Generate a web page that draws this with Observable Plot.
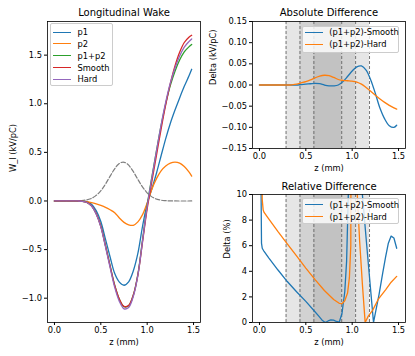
<!DOCTYPE html>
<html>
<head>
<meta charset="utf-8">
<script src="https://cdn.jsdelivr.net/npm/d3@7"></script>
<script src="https://cdn.jsdelivr.net/npm/@observablehq/plot@0.6"></script>
<style>
html, body { margin: 0; padding: 0; background: #fff; }
#fig { position: relative; width: 415px; height: 356px; overflow: hidden; font-family: "DejaVu Sans", sans-serif; background: #fff; }
#fig svg { position: absolute; overflow: visible; }
.legend { position: absolute; background: rgba(255,255,255,0.8); border: 1px solid #cccccc; border-radius: 2px; box-sizing: border-box; font-size: 8.3px; color: #000; }
.legend .row { position: absolute; left: 0; height: 0; display: flex; align-items: center; }
.legend .sw { display: inline-block; width: 17.7px; height: 0; border-top: 1.4px solid; margin-left: 2.4px; margin-right: 6.4px; }
.legend .lb { line-height: 1; white-space: nowrap; }
</style>
</head>
<body>
<div id="fig"></div>
<script>
// ---------- data ----------
const zGrid = [0,0.05,0.1,0.15,0.2,0.25,0.3,0.35,0.4,0.45,0.5,0.55,0.6,0.65,0.7,0.75,0.8,0.85,0.9,0.95,1.0,1.05,1.1,1.15,1.2,1.25,1.3,1.35,1.4,1.45,1.48];
const wakeP1     = [0,0,0,0,0,0,-0.001,-0.007,-0.033,-0.099,-0.212,-0.392,-0.576,-0.747,-0.835,-0.867,-0.832,-0.72,-0.537,-0.26,-0.027,0.123,0.285,0.465,0.642,0.80,0.935,1.06,1.179,1.285,1.355];
const wakeP2     = [0,0,0,0,0,0,-0.002,-0.008,-0.017,-0.03,-0.046,-0.065,-0.09,-0.12,-0.175,-0.22,-0.245,-0.25,-0.215,-0.14,-0.02,0.12,0.23,0.31,0.36,0.39,0.40,0.39,0.355,0.30,0.255];
const wakeP1P2   = [0,0,0,0,0,0,-0.003,-0.015,-0.05,-0.129,-0.258,-0.457,-0.666,-0.867,-1.01,-1.087,-1.077,-0.97,-0.752,-0.40,-0.047,0.243,0.515,0.775,1.002,1.19,1.335,1.45,1.534,1.585,1.61];
const wakeSmooth = [0,0,0,0,0,0,-0.003,-0.015,-0.05,-0.13,-0.26,-0.46,-0.67,-0.87,-1.01,-1.085,-1.075,-0.97,-0.76,-0.42,-0.08,0.20,0.47,0.74,0.99,1.21,1.39,1.53,1.63,1.685,1.705];
const wakeHard   = [0,0,0,0,0,0,-0.003,-0.0155,-0.052,-0.134,-0.266,-0.469,-0.683,-0.888,-1.033,-1.109,-1.095,-0.983,-0.763,-0.41,-0.056,0.236,0.513,0.781,1.017,1.214,1.368,1.491,1.582,1.639,1.667];

const bunchZ = [0,0.24,0.29,0.34,0.39,0.44,0.49,0.54,0.59,0.64,0.69,0.74,0.79,0.84,0.89,0.94,0.99,1.04,1.09,1.14,1.19,1.24,1.48];
const bunchV = [0,0.001,0.004,0.010,0.023,0.05,0.094,0.158,0.238,0.317,0.378,0.40,0.378,0.317,0.238,0.158,0.094,0.05,0.023,0.01,0.004,0.001,0];

const absDiffSmooth = [0,0,0,0,0,0,0,0,0,0.001,0.002,0.003,0.004,0.003,0.0,-0.002,-0.002,0.0,0.008,0.02,0.033,0.043,0.045,0.035,0.012,-0.02,-0.055,-0.08,-0.096,-0.10,-0.095];
const absDiffHard   = [0,0,0,0,0,0,0,0.0005,0.002,0.005,0.008,0.012,0.017,0.021,0.023,0.022,0.018,0.013,0.011,0.010,0.009,0.007,0.002,-0.006,-0.015,-0.024,-0.033,-0.041,-0.048,-0.054,-0.057];

const relSmoothZ = [0.003,0.012,0.022,0.03,0.05,0.1,0.2,0.3,0.4,0.5,0.58,0.64,0.68,0.71,0.74,0.77,0.8,0.83,0.86,0.89,0.92,0.94,0.96,0.98,1.0,1.04,1.08,1.11,1.15,1.18,1.23,1.26,1.29,1.33,1.36,1.39,1.42,1.45,1.48];
const relSmoothV = [60,15,6.2,5.8,5.55,5.05,4.1,3.2,2.4,1.65,1.0,0.5,0.15,0.0,0.12,0.2,0.18,0.08,0.02,0.7,2.4,4.8,10.5,30,80,30,14,10,6.6,4.1,0.0,1.1,2.2,3.9,5.1,6.2,6.75,6.6,5.8];
const relHardZ = [0.005,0.02,0.03,0.04,0.05,0.1,0.2,0.3,0.4,0.5,0.6,0.7,0.8,0.86,0.89,0.92,0.95,0.97,0.985,1.0,1.03,1.055,1.08,1.11,1.14,1.17,1.22,1.28,1.36,1.42,1.48];
const relHardV = [60,14,9.6,8.8,8.6,8.1,7.1,6.15,5.2,4.25,3.35,2.5,1.8,1.5,1.47,1.7,2.3,3.5,6,60,30,10,6.4,3.0,0.0,0.45,0.95,1.8,2.55,3.15,3.6];

const bandLo = [0.287, 0.437, 0.587];
const bandHi = [1.187, 1.037, 0.887];

const wakeNames = ["p1", "p2", "p1+p2", "Smooth", "Hard"];
const diffNames = ["(p1+p2)-Smooth", "(p1+p2)-Hard"];
const titles = ["Longitudinal Wake", "Absolute Difference", "Relative Difference"];
const zTicks = [0, 0.5, 1.0, 1.5];
const wakeTicks = [-1.0, -0.5, 0.0, 0.5, 1.0, 1.5];
const absTicks = [-0.15, -0.10, -0.05, 0.0, 0.05, 0.10, 0.15];
const relTicks = [0, 2, 4, 6, 8, 10];

// ---------- styling ----------
const tab = ["#1f77b4", "#ff7f0e", "#2ca02c", "#d62728", "#9467bd"];
const lw = 1.3;
const fig = document.getElementById("fig");
const fmt1 = d3.format(".1f"), fmt2 = d3.format(".2f"), fmt0 = d3.format("d");
const rows = (z, v) => z.map((x, i) => ({z: x, v: v[i]}));
const bands = bandLo.map((lo, i) => ({lo, hi: bandHi[i]}));
const xDomain = [-0.075, 1.575];
const baseStyle = {fontFamily: "DejaVu Sans", fontSize: "8.3px", color: "#000", background: "transparent", overflow: "visible"};

function place(svg, left, top) {
  svg.style.left = left + "px";
  svg.style.top = top + "px";
  fig.appendChild(svg);
}
function frameTexts(title, ylabel, ylabDx, titleDy) {
  return [
    Plot.frame({stroke: "#000", strokeWidth: 0.8}),
    Plot.text([title], {text: d => d, frameAnchor: "top", dy: titleDy, lineAnchor: "middle", fontSize: 10}),
    Plot.text(["z (mm)"], {text: d => d, frameAnchor: "bottom", dy: 20, lineAnchor: "middle"}),
    Plot.text([ylabel], {text: d => d, frameAnchor: "left", dx: ylabDx, rotate: -90, lineAnchor: "middle"})
  ];
}
function shading() {
  return [
    Plot.rect(bands, {x1: "lo", x2: "hi", fill: "#808080", fillOpacity: 0.2}),
    Plot.ruleX([...bandLo, ...bandHi], {stroke: "#555", strokeWidth: 0.8, strokeDasharray: "3,2"})
  ];
}

// ---------- left: longitudinal wake ----------
const wakeSeries = [wakeP1, wakeP2, wakeP1P2, wakeSmooth, wakeHard];
const left = Plot.plot({
  width: 207, height: 356,
  marginLeft: 47, marginRight: 7, marginTop: 21, marginBottom: 34,
  style: baseStyle,
  x: {domain: xDomain},
  y: {domain: [-1.25, 1.846]},
  marks: [
    Plot.axisX({ticks: zTicks, tickFormat: fmt1, tickSize: 3, tickPadding: 2, label: null}),
    Plot.axisY({ticks: wakeTicks, tickFormat: fmt1, tickSize: 3, tickPadding: 2.5, label: null}),
    Plot.line(rows(bunchZ, bunchV), {x: "z", y: "v", stroke: "#7f7f7f", strokeWidth: 1.2, strokeDasharray: "4.5,2", curve: "catmull-rom"}),
    ...wakeSeries.map((s, i) => Plot.line(rows(zGrid, s), {x: "z", y: "v", stroke: tab[i], strokeWidth: lw, curve: "catmull-rom"})),
    ...frameTexts(titles[0], "W_l (kV/pC)", -34, -8.3)
  ]
});
place(left, 0, 0);

// ---------- right top: absolute difference ----------
const absPlot = Plot.plot({
  width: 208, height: 178,
  marginLeft: 45, marginRight: 10, marginTop: 21, marginBottom: 30,
  style: baseStyle,
  x: {domain: xDomain},
  y: {domain: [-0.15, 0.15]},
  marks: [
    ...shading(),
    Plot.axisX({ticks: zTicks, tickFormat: fmt1, tickSize: 3, tickPadding: 2, label: null}),
    Plot.axisY({ticks: absTicks, tickFormat: fmt2, tickSize: 3, tickPadding: 2.5, label: null}),
    Plot.line(rows(zGrid, absDiffSmooth), {x: "z", y: "v", stroke: tab[0], strokeWidth: lw, curve: "catmull-rom"}),
    Plot.line(rows(zGrid, absDiffHard), {x: "z", y: "v", stroke: tab[1], strokeWidth: lw, curve: "catmull-rom"}),
    ...frameTexts(titles[1], "Delta (kV/pC)", -38.7, -8.3)
  ]
});
place(absPlot, 207, 0);

// ---------- right bottom: relative difference ----------
const relPlot = Plot.plot({
  width: 208, height: 178,
  marginLeft: 45, marginRight: 10, marginTop: 16, marginBottom: 34,
  style: baseStyle,
  x: {domain: xDomain},
  y: {domain: [0, 10]},
  marks: [
    ...shading(),
    Plot.axisX({ticks: zTicks, tickFormat: fmt1, tickSize: 3, tickPadding: 2, label: null}),
    Plot.axisY({ticks: relTicks, tickFormat: fmt0, tickSize: 3, tickPadding: 2.5, label: null}),
    Plot.line(rows(relSmoothZ, relSmoothV), {x: "z", y: "v", stroke: tab[0], strokeWidth: lw, clip: true}),
    Plot.line(rows(relHardZ, relHardV), {x: "z", y: "v", stroke: tab[1], strokeWidth: lw, clip: true}),
    ...frameTexts(titles[2], "Delta (%)", -25.3, -8)
  ]
});
place(relPlot, 207, 178);

// ---------- legends ----------
function legend(names, colors, box, pad, pitch) {
  const d = document.createElement("div");
  d.className = "legend";
  Object.assign(d.style, {left: box[0] + "px", top: box[1] + "px", width: box[2] + "px", height: box[3] + "px"});
  names.forEach((name, i) => {
    const r = document.createElement("div");
    r.className = "row";
    r.style.top = (pad + i * pitch) + "px";
    const sw = document.createElement("span");
    sw.className = "sw";
    sw.style.borderTopColor = colors[i];
    const lb = document.createElement("span");
    lb.className = "lb";
    lb.textContent = name;
    r.appendChild(sw); r.appendChild(lb);
    d.appendChild(r);
  });
  fig.appendChild(d);
}
legend(wakeNames, tab, [50, 23, 62.7, 63], 8, 11.9);
legend(diffNames, tab, [301.7, 26, 97.3, 26.7], 5.4, 11.6);
legend(diffNames, tab, [302, 198.3, 97, 25.5], 5.6, 11.8);
</script>
</body>
</html>
